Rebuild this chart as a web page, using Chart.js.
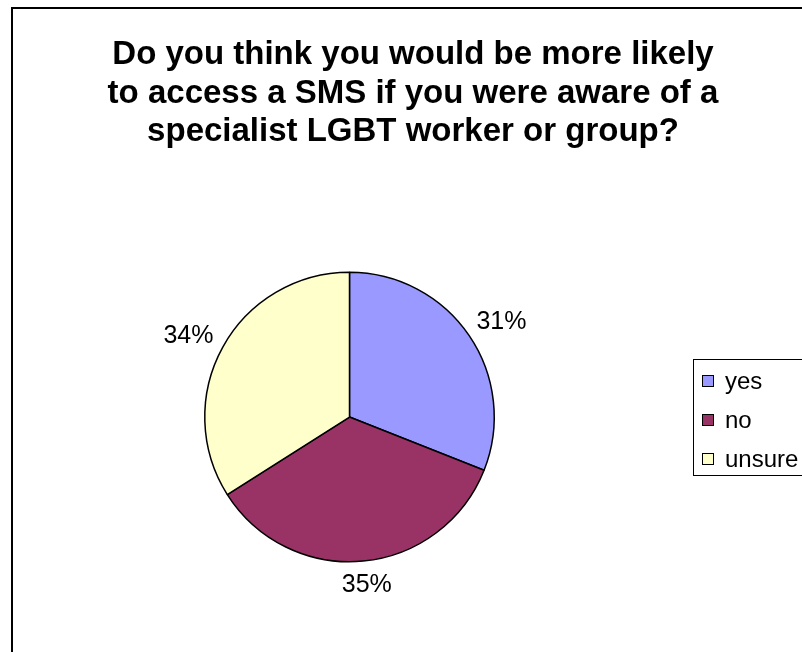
<!DOCTYPE html>
<html>
<head>
<meta charset="utf-8">
<script src="https://cdn.jsdelivr.net/npm/chart.js@4.4.0/dist/chart.umd.min.js"></script>
<style>
  html, body { margin: 0; padding: 0; background: #fff; overflow: hidden; }
  #frame { position: absolute; left: 11px; top: 7px; width: 800px; height: 660px; border: 2px solid #000; }
  canvas { display: block; }
</style>
</head>
<body>
<div id="frame"><canvas id="smsChart" width="800" height="660"></canvas></div>
<script>
const titleLines = [
  'Do you think you would be more likely',
  'to access a SMS if you were aware of a',
  'specialist LGBT worker or group?'
];
const answers = ['yes', 'no', 'unsure'];
const shares = [31, 35, 34];
const sliceColours = ['#9999FF', '#993366', '#FFFFCC'];

const FONT = "Arial, 'Liberation Sans', sans-serif";

// legend lives in its own layout box on the right, so the pie is pushed left
// while the title stays centred on the full width
function drawLegend(chart, box) {
  const ctx = chart.ctx;
  const left = Math.round(box.left + 7);
  const midY = (box.top + box.bottom) / 2;
  const h = 116;
  const top = Math.round(midY - h / 2);
  ctx.save();
  ctx.strokeStyle = '#000';
  ctx.lineWidth = 1;
  ctx.strokeRect(left + 0.5, top + 0.5, 150, h);
  ctx.font = '24px ' + FONT;
  ctx.textBaseline = 'middle';
  answers.forEach((label, i) => {
    const y = Math.round(midY + 3 + (i - 1) * 39);
    ctx.fillStyle = sliceColours[i];
    ctx.fillRect(left + 9, y - 6, 12, 12);
    ctx.strokeRect(left + 9.5, y - 5.5, 11, 11);
    ctx.fillStyle = '#000';
    ctx.fillText(label, left + 32, y + 1);
  });
  ctx.restore();
}

const legendBox = {
  id: 'legendBox',
  beforeInit(chart) {
    Chart.layouts.addBox(chart, {
      position: 'right',
      weight: 0,
      fullSize: false,
      options: {},
      isHorizontal() { return false; },
      update(maxWidth, maxHeight) {
        this.width = 127;
        this.height = maxHeight;
      },
      draw() { drawLegend(chart, this); }
    });
  }
};

// percentage labels just outside each slice
const outsideLabels = {
  id: 'outsideLabels',
  afterDatasetsDraw(chart) {
    const ctx = chart.ctx;
    const meta = chart.getDatasetMeta(0);
    ctx.save();
    ctx.font = '25px ' + FONT;
    ctx.fillStyle = '#000';
    ctx.textAlign = 'center';
    ctx.textBaseline = 'middle';
    meta.data.forEach((arc, i) => {
      const { x, y, startAngle, endAngle, outerRadius } = arc.getProps(['x', 'y', 'startAngle', 'endAngle', 'outerRadius']);
      const mid = (startAngle + endAngle) / 2;
      const text = shares[i] + '%';
      const halfW = ctx.measureText(text).width / 2;
      const halfH = 10;
      const r = outerRadius + 14;
      const cx = x + Math.cos(mid) * (r + halfW);
      const cy = y + Math.sin(mid) * (r + halfH);
      ctx.fillText(text, cx, cy);
    });
    ctx.restore();
  }
};

new Chart(document.getElementById('smsChart'), {
  type: 'pie',
  data: {
    labels: answers,
    datasets: [{
      data: shares,
      backgroundColor: sliceColours,
      borderColor: '#000',
      borderWidth: 1.5
    }]
  },
  options: {
    responsive: false,
    animation: false,
    devicePixelRatio: 1,
    events: [],
    layout: { padding: { bottom: 106.5 } },
    plugins: {
      legend: { display: false },
      tooltip: { enabled: false },
      title: {
        display: true,
        text: titleLines,
        color: '#000',
        font: { family: FONT, size: 33, weight: 'bold', lineHeight: 1.167 },
        padding: { top: 27, bottom: 120 }
      }
    }
  },
  plugins: [legendBox, outsideLabels]
});
</script>
</body>
</html>
